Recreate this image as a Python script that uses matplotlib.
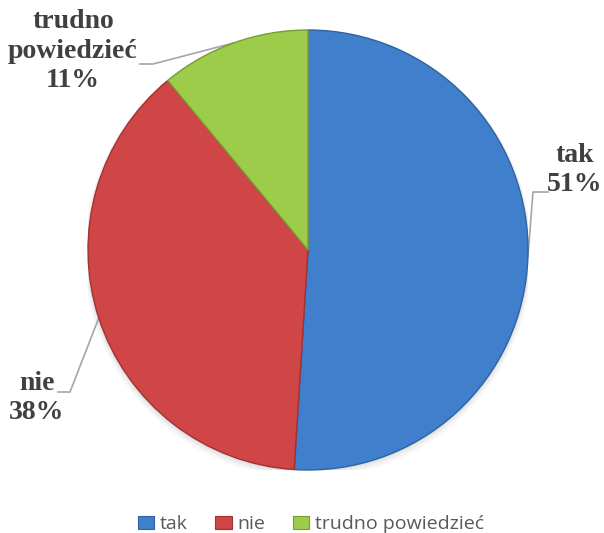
import matplotlib
matplotlib.use("Agg")
import matplotlib.pyplot as plt
import numpy as np
from matplotlib.patches import Patch, Circle

categories = ["tak", "nie", "trudno powiedzieć"]
shares = [51, 38, 11]
slice_labels = ["tak\n51%", "nie\n38%", "trudno\npowiedzieć\n11%"]

colors = ["#3F7FCC", "#D04545", "#9DCB4A"]
edges = ["#2F62A0", "#A23232", "#789C36"]

W, H = 604, 533
fig = plt.figure(figsize=(W / 100, H / 100), dpi=100)

cx, cy, r = 308, 250, 220
ax = fig.add_axes([(cx - r) / W, (H - cy - r) / H, 2 * r / W, 2 * r / H])

# soft drop shadow under the pie
for k, a in [(4, 0.06), (2.5, 0.08), (1.2, 0.10)]:
    ax.add_patch(Circle((0, -k / r), 1.0 + k / r, facecolor="#808080",
                        edgecolor="none", alpha=a, zorder=0))

wedges, _ = ax.pie(shares, colors=colors, startangle=90, counterclock=False,
                   radius=1.0, wedgeprops=dict(linewidth=1.0))
for w, ec in zip(wedges, edges):
    w.set_edgecolor(ec)
    w.set_zorder(2)

ax.set_xlim(-1, 1)
ax.set_ylim(-1, 1)
ax.set_aspect("equal")
ax.axis("off")

# label anchor positions in pixel coordinates (center of text block)
label_px = [(575, 170), (37, 398), (73, 51)]
# leader line bends (pixel coordinates): text end -> elbow
elbows = [[(548, 192), (533, 192)], [(58, 392), (70, 392)], [(140, 64), (153, 64)]]

def px_to_data(x, y):
    return ((x - cx) / r, (cy - y) / r)

text_color = "#404040"
for w, lab, (lx, ly), elb in zip(wedges, slice_labels, label_px, elbows):
    mid = np.deg2rad((w.theta1 + w.theta2) / 2)
    ex, ey = np.cos(mid), np.sin(mid)
    pts = [px_to_data(*p) for p in elb] + [(ex, ey)]
    xs, ys = zip(*pts)
    ax.plot(xs, ys, color="#A6A6A6", lw=1.2, clip_on=False, zorder=1)
    tx, ty = px_to_data(lx, ly)
    ax.text(tx, ty, lab, ha="center", va="center", family="Liberation Serif",
            fontweight="bold", fontsize=20, color=text_color, linespacing=1.22,
            clip_on=False)

handles = [Patch(facecolor=c, edgecolor=e, linewidth=0.8) for c, e in zip(colors, edges)]
fig.legend(handles, categories, loc="center", bbox_to_anchor=(0.515, 1 - 524 / H),
           ncol=3, frameon=False, prop=dict(family="Open Sans", size=14),
           labelcolor="#595959", handlelength=0.85, handleheight=0.65,
           handletextpad=0.3, columnspacing=1.4)

fig.savefig("out.png", dpi=100, facecolor="white")
